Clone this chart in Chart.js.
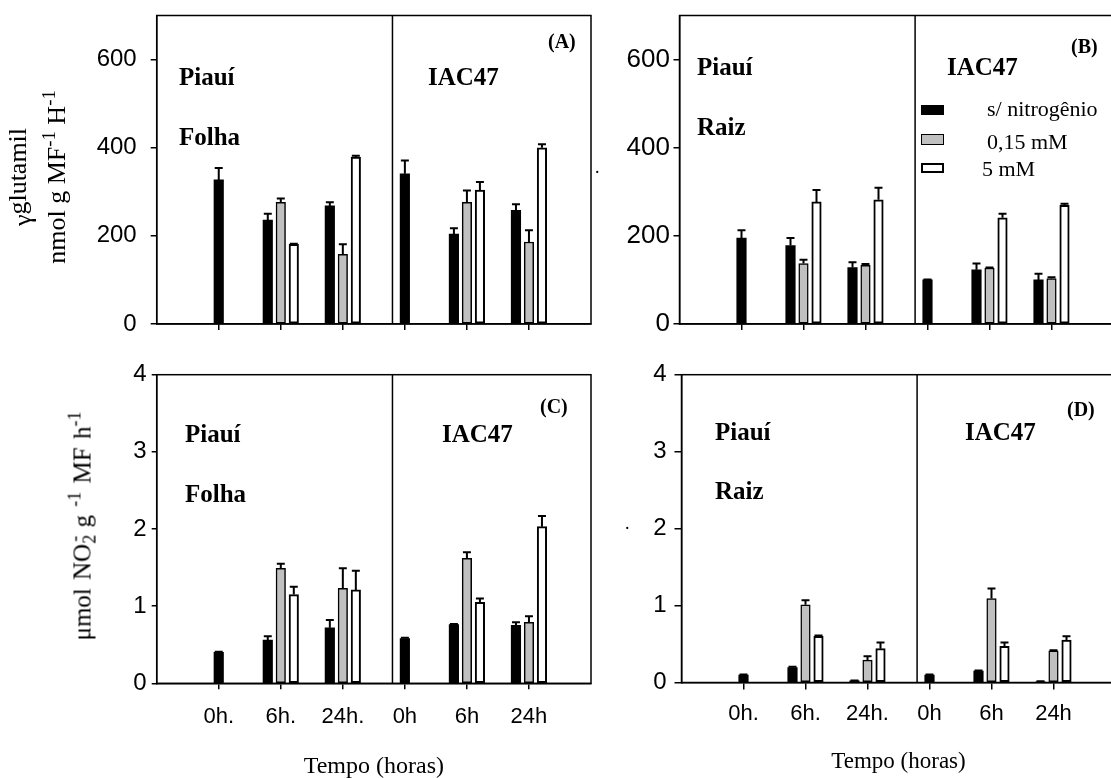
<!DOCTYPE html>
<html><head><meta charset="utf-8">
<script src="https://cdn.jsdelivr.net/npm/chart.js@4.4.1/dist/chart.umd.min.js"></script>
<style>
html,body{margin:0;padding:0;background:#fff;overflow:hidden;width:1111px;height:778px}
#page{position:relative;width:1111px;height:778px;overflow:hidden;background:#fff}
canvas{position:absolute}
.t{position:absolute;font-family:'Liberation Serif','Times New Roman',serif;line-height:1;white-space:nowrap;color:#000}
.b{font-weight:bold}
.yt{position:absolute;font-family:'Liberation Serif','Times New Roman',serif;line-height:1;white-space:nowrap;transform:translate(-50%,-50%) rotate(-90deg);color:#000}
.yt sup{font-size:0.72em;vertical-align:0.55em;line-height:0}
.yt sub{font-size:0.72em;vertical-align:-0.3em;line-height:0}
.sw{position:absolute;box-sizing:border-box;border-style:solid;border-color:#000}
</style></head>
<body><div id="page">
<canvas id="cA" width="600" height="340" style="left:0;top:0;width:600px;height:340px"></canvas>
<canvas id="cB" width="520" height="340" style="left:600px;top:0;width:520px;height:340px"></canvas>
<canvas id="cC" width="600" height="450" style="left:0;top:340px;width:600px;height:450px"></canvas>
<canvas id="cD" width="520" height="450" style="left:600px;top:340px;width:520px;height:450px"></canvas>

<!-- y-axis titles -->
<div class="yt" style="left:23px;top:177px;font-size:26px">γ<span style="position:relative;top:-0.2em">glutamil</span></div>
<div class="yt" style="left:57px;top:177px;font-size:26px">nmol g MF<sup>-1</sup> H<sup>-1</sup></div>
<div class="yt" style="left:82px;top:526px;font-size:25px;word-spacing:2px">μmol NO<sub>2</sub><sup style="margin-left:-0.38em">-</sup> g <sup>-1</sup> MF h<sup>-1</sup></div>

<!-- panel annotations -->
<div class="t b" style="left:179px;top:64.1px;font-size:25px">Piauí</div>
<div class="t b" style="left:179px;top:124.1px;font-size:25px">Folha</div>
<div class="t b" style="left:428px;top:64.1px;font-size:25px">IAC47</div>
<div class="t b" style="left:548px;top:31.2px;font-size:20px">(A)</div>
<div class="t" style="left:595px;top:158px;font-size:18px">.</div>

<div class="t b" style="left:697px;top:54.1px;font-size:25px">Piauí</div>
<div class="t b" style="left:697px;top:114.1px;font-size:25px">Raiz</div>
<div class="t b" style="left:947px;top:54.1px;font-size:25px">IAC47</div>
<div class="t b" style="left:1071px;top:36.3px;font-size:20px">(B)</div>

<div class="t b" style="left:185px;top:420.8px;font-size:25px">Piauí</div>
<div class="t b" style="left:185px;top:480.8px;font-size:25px">Folha</div>
<div class="t b" style="left:442px;top:420.8px;font-size:25px">IAC47</div>
<div class="t b" style="left:540px;top:396.3px;font-size:20px">(C)</div>

<div class="t b" style="left:715px;top:419.1px;font-size:25px">Piauí</div>
<div class="t b" style="left:715px;top:478.4px;font-size:25px">Raiz</div>
<div class="t b" style="left:965px;top:419.1px;font-size:25px">IAC47</div>
<div class="t b" style="left:1067px;top:399px;font-size:20px">(D)</div>
<div class="t" style="left:625px;top:514px;font-size:18px">.</div>

<div id="legend"></div>
</div>
<script>
// ---------- data ----------
const CATEGORIES = ['0h.', '6h.', '24h.', '0h', '6h', '24h'];
const SERIES = ['s/ nitrogênio', '0,15 mM', '5 mM'];
const Y_TICKS_GLUT = [0, 200, 400, 600];
const Y_TICKS_NR = [0, 1, 2, 3, 4];

// (A) gamma-glutamil, folha
const A_SEM_N     = [327, 236, 268, 341, 204, 258];
const A_SEM_N_ERR = [27, 14, 8, 30, 13, 14];
const A_015       = [null, 276, 158, null, 276, 186];
const A_015_ERR   = [null, 9, 23, null, 27, 27];
const A_5MM       = [null, 181, 379, null, 304, 400];
const A_5MM_ERR   = [null, 1, 3, null, 18, 8];

// (B) gamma-glutamil, raiz
const B_SEM_N     = [195, 178, 128, 100, 123, 100];
const B_SEM_N_ERR = [18, 17, 12, 1, 14, 14];
const B_015       = [null, 137, 133, null, 127, 103];
const B_015_ERR   = [null, 9, 3, null, 1, 3];
const B_5MM       = [null, 277, 282, null, 241, 269];
const B_5MM_ERR   = [null, 27, 27, null, 9, 4];

// (C) nitrato redutase, folha
const C_SEM_N     = [0.40, 0.56, 0.72, 0.58, 0.76, 0.75];
const C_SEM_N_ERR = [0.01, 0.05, 0.10, 0.01, 0.01, 0.04];
const C_015       = [null, 1.49, 1.23, null, 1.62, 0.79];
const C_015_ERR   = [null, 0.06, 0.26, null, 0.08, 0.08];
const C_5MM       = [null, 1.15, 1.21, null, 1.05, 2.03];
const C_5MM_ERR   = [null, 0.10, 0.25, null, 0.05, 0.14];

// (D) nitrato redutase, raiz
const D_SEM_N     = [0.095, 0.195, 0.022, 0.095, 0.147, 0.01];
const D_SEM_N_ERR = [0.01, 0.01, 0.005, 0.01, 0.01, 0.005];
const D_015       = [null, 1.01, 0.29, null, 1.09, 0.41];
const D_015_ERR   = [null, 0.06, 0.05, null, 0.13, 0.01];
const D_5MM       = [null, 0.60, 0.44, null, 0.47, 0.55];
const D_5MM_ERR   = [null, 0.01, 0.08, null, 0.05, 0.05];

// ---------- styling ----------
const COLORS = ['#000000', '#c0c0c0', '#ffffff'];
const BORDER_W = [0, 1.5, 2];
const DIVIDER_AT = 3.8;   // between the Piauí and IAC47 groups (category index space)
const SANS = "'Liberation Sans', Arial, sans-serif";
const SERIF = "'Liberation Serif', 'Times New Roman', serif";

const LABELS = [''].concat(CATEGORIES, ['']);
const pad = arr => [null].concat(arr, [null]);

Chart.defaults.color = '#000';
Chart.defaults.font.family = SANS;

const errBarPlugin = {
  id: 'errbars',
  afterDatasetsDraw(chart, args, opts) {
    const ctx = chart.ctx, y = chart.scales.y;
    ctx.save();
    ctx.strokeStyle = '#000';
    ctx.lineWidth = opts.lineWidth;
    chart.data.datasets.forEach((ds, i) => {
      const meta = chart.getDatasetMeta(i);
      const errs = opts.errs[i];
      meta.data.forEach((bar, j) => {
        const v = ds.data[j], e = errs[j];
        if (v == null || e == null) return;
        const yTop = y.getPixelForValue(v + e);
        const half = bar.width * 0.42;
        ctx.beginPath();
        ctx.moveTo(bar.x, bar.y); ctx.lineTo(bar.x, yTop);
        ctx.moveTo(bar.x - half, yTop); ctx.lineTo(bar.x + half, yTop);
        ctx.stroke();
      });
    });
    ctx.restore();
  }
};

const framePlugin = {
  id: 'frame',
  afterDraw(chart, args, opts) {
    const ctx = chart.ctx, a = chart.chartArea, x = chart.scales.x;
    ctx.save();
    ctx.strokeStyle = '#000';
    ctx.lineWidth = opts.lineWidth;
    ctx.strokeRect(a.left, a.top, a.right - a.left, a.bottom - a.top);
    const xd = x.getPixelForValue(opts.divider);
    ctx.beginPath(); ctx.moveTo(xd, a.top); ctx.lineTo(xd, a.bottom); ctx.stroke();
    ctx.restore();
  }
};

function noPad(s) { s.paddingTop = 0; s.paddingBottom = 0; s.paddingLeft = 0; s.paddingRight = 0; }

function makePanel(p) {
  const datasets = SERIES.map((name, i) => ({
    label: name,
    data: pad(p.series[i]),
    backgroundColor: COLORS[i],
    borderColor: '#000',
    borderWidth: BORDER_W[i]
  }));
  return new Chart(document.getElementById(p.id), {
    type: 'bar',
    data: { labels: LABELS, datasets },
    options: {
      responsive: false, animation: false, devicePixelRatio: 1,
      layout: { padding: { top: p.padTop, right: p.padRight, left: 0, bottom: 0 } },
      datasets: { bar: { skipNull: true, barThickness: 13, maxBarThickness: 9.5, borderSkipped: false } },
      plugins: {
        legend: { display: false }, tooltip: { enabled: false },
        errbars: { errs: p.errs.map(pad), lineWidth: 2 },
        frame: { divider: DIVIDER_AT, lineWidth: 1.5 }
      },
      scales: {
        x: {
          type: 'category', offset: false,
          grid: { offset: false, drawOnChartArea: false, drawTicks: true, tickLength: p.xTickLen, color: '#000', lineWidth: 1.5 },
          border: { display: true, color: '#000', width: 1.5 },
          afterBuildTicks: s => { s.ticks = s.ticks.filter(t => LABELS[t.value] !== ''); },
          afterFit: s => { s.height = p.axisH; noPad(s); },
          ticks: { display: p.xLabels, autoSkip: false, maxRotation: 0, minRotation: 0,
                   font: { family: SANS, size: 22 }, color: '#000', padding: p.xLabelPad || 0 },
          title: p.xLabels ? { display: true, text: 'Tempo (horas)', color: '#000',
                   font: { family: SERIF, size: p.titleSize }, padding: { top: 0, bottom: p.titlePadBottom } } : { display: false }
        },
        y: {
          min: 0, max: p.yMax,
          afterBuildTicks: s => { s.ticks = p.yTicks.map(v => ({ value: v })); },
          afterFit: s => { s.width = p.axisW; noPad(s); },
          ticks: { font: { family: SANS, size: p.yTickFont }, color: '#000', padding: p.yTickPad },
          grid: { drawOnChartArea: false, drawTicks: true, tickLength: p.yTickLen, color: '#000', lineWidth: 1.5 },
          border: { display: true, color: '#000', width: 1.5 }
        }
      }
    },
    plugins: [errBarPlugin, framePlugin]
  });
}

makePanel({ id: 'cA', series: [A_SEM_N, A_015, A_5MM], errs: [A_SEM_N_ERR, A_015_ERR, A_5MM_ERR],
  yMax: 700, yTicks: Y_TICKS_GLUT, padTop: 15.5, padRight: 9, axisW: 156.7, axisH: 16,
  yTickFont: 24, yTickPad: 14, yTickLen: 6, xTickLen: 6, xLabels: false });
makePanel({ id: 'cB', series: [B_SEM_N, B_015, B_5MM], errs: [B_SEM_N_ERR, B_015_ERR, B_5MM_ERR],
  yMax: 700, yTicks: Y_TICKS_GLUT, padTop: 15.5, padRight: 6.5, axisW: 79.5, axisH: 16,
  yTickFont: 26, yTickPad: 3.5, yTickLen: 6, xTickLen: 6, xLabels: false });
makePanel({ id: 'cC', series: [C_SEM_N, C_015, C_5MM], errs: [C_SEM_N_ERR, C_015_ERR, C_5MM_ERR],
  yMax: 4, yTicks: Y_TICKS_NR, padTop: 34.7, padRight: 9, axisW: 156.7, axisH: 106.7,
  yTickFont: 24, yTickPad: 5, yTickLen: 5, xTickLen: 6, xLabels: true, xLabelPad: 14.5,
  titleSize: 24, titlePadBottom: 8.6 });
makePanel({ id: 'cD', series: [D_SEM_N, D_015, D_5MM], errs: [D_SEM_N_ERR, D_015_ERR, D_5MM_ERR],
  yMax: 4, yTicks: Y_TICKS_NR, padTop: 34.7, padRight: 4.5, axisW: 81.5, axisH: 107.5,
  yTickFont: 24, yTickPad: 7.8, yTickLen: 7, xTickLen: 7, xLabels: true, xLabelPad: 11,
  titleSize: 23, titlePadBottom: 14.2 });

// legend (inside panel B), built from the series names and colours
const LEGEND_BOX = [ {top: 105, h: 10}, {top: 134, h: 11}, {top: 163, h: 10} ];
const LEGEND_TEXT = [ {left: 987, top: 97.6}, {left: 987, top: 130.9}, {left: 982, top: 158.3} ];
const lg = document.getElementById('legend');
SERIES.forEach((name, i) => {
  const sw = document.createElement('div');
  sw.className = 'sw';
  sw.style.cssText = `left:920.7px;top:${LEGEND_BOX[i].top}px;width:23px;height:${LEGEND_BOX[i].h}px;` +
    `background:${COLORS[i]};border-width:${i === 0 ? 0 : BORDER_W[i]}px`;
  lg.appendChild(sw);
  const tx = document.createElement('div');
  tx.className = 't';
  tx.style.cssText = `left:${LEGEND_TEXT[i].left}px;top:${LEGEND_TEXT[i].top}px;font-size:22px`;
  tx.textContent = name;
  lg.appendChild(tx);
});
</script>
</body></html>
